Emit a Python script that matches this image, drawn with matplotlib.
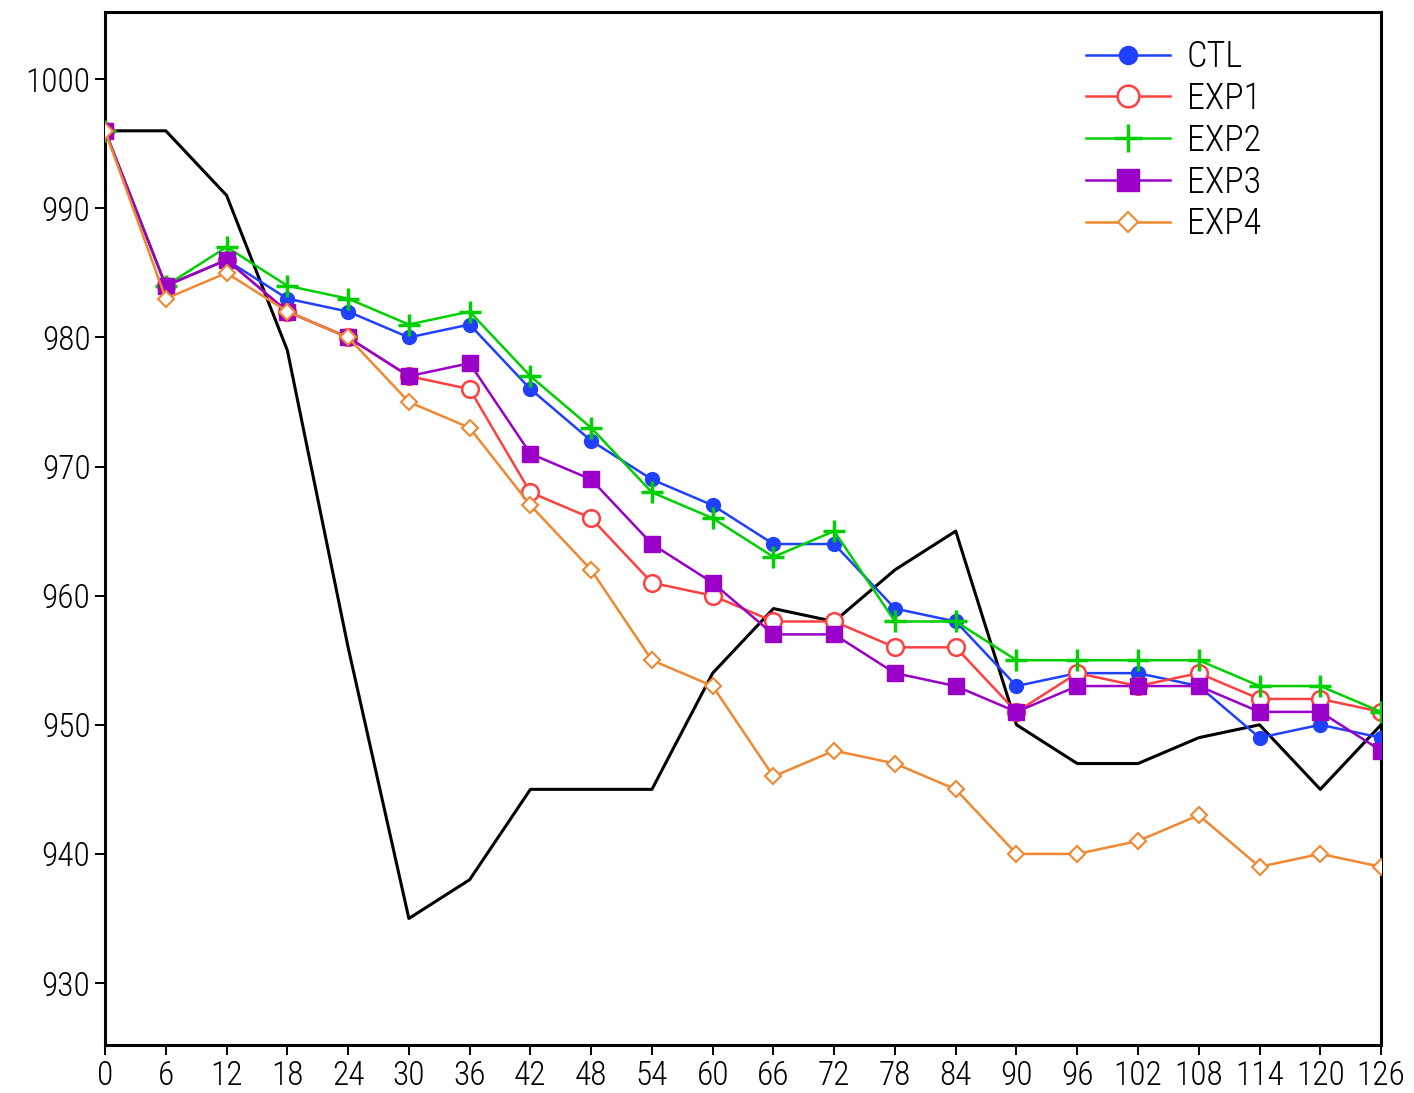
import matplotlib
matplotlib.use("Agg")
import matplotlib.pyplot as plt

# forecast hours
hours = list(range(0, 127, 6))

obs  = [996, 996, 991, 979, 956, 935, 938, 945, 945, 945, 954, 959, 958, 962, 965, 950, 947, 947, 949, 950, 945, 950]
ctl  = [996, 984, 986, 983, 982, 980, 981, 976, 972, 969, 967, 964, 964, 959, 958, 953, 954, 954, 953, 949, 950, 949]
exp1 = [996, 984, 986, 982, 980, 977, 976, 968, 966, 961, 960, 958, 958, 956, 956, 951, 954, 953, 954, 952, 952, 951]
exp2 = [996, 984, 987, 984, 983, 981, 982, 977, 973, 968, 966, 963, 965, 958, 958, 955, 955, 955, 955, 953, 953, 951]
exp3 = [996, 984, 986, 982, 980, 977, 978, 971, 969, 964, 961, 957, 957, 954, 953, 951, 953, 953, 953, 951, 951, 948]
exp4 = [996, 983, 985, 982, 980, 975, 973, 967, 962, 955, 953, 946, 948, 947, 945, 940, 940, 941, 943, 939, 940, 939]

plt.rcParams.update({
    "font.family": ["Liberation Sans Narrow", "Roboto Condensed", "DejaVu Sans"],
    "font.stretch": "condensed",
    "font.weight": "light",
    "font.size": 24,
})

fig = plt.figure(figsize=(14.14, 10.93), dpi=100)
ax = fig.add_axes([0.0743, 0.0439, 0.9024, 0.9451])

ax.plot(hours, obs, color="black", lw=2.2, zorder=2)
ax.plot(hours, ctl, color="#2040ff", lw=1.8, marker="o", ms=10, mfc="#2040ff", mec="#2040ff", label="CTL", zorder=3)
ax.plot(hours, exp1, color="#ff4040", lw=1.8, marker="o", ms=12, mfc="white", mec="#ff4040", mew=1.8, label="EXP1", zorder=3)
ax.plot(hours, exp2, color="#00d000", lw=1.8, marker="+", ms=16, mew=2.5, label="EXP2", zorder=3)
ax.plot(hours, exp3, color="#9a00c8", lw=1.8, marker="s", ms=12, mfc="#9a00c8", mec="#9a00c8", label="EXP3", zorder=3)
ax.plot(hours, exp4, color="#f08830", lw=1.8, marker="D", ms=8, mfc="white", mec="#f08830", mew=1.5, label="EXP4", zorder=3)

ax.set_xlim(0, 126)
ax.set_ylim(925.2, 1005.2)
ax.set_xticks(hours)
ax.set_yticks([930, 940, 950, 960, 970, 980, 990, 1000])

for s in ax.spines.values():
    s.set_linewidth(2.2)
ax.tick_params(direction="out", length=7, width=1.4, labelsize=24, colors="black")

ax.legend(loc="upper left", bbox_to_anchor=(0.743, 1.005), frameon=False, markerscale=1.3,
          handlelength=2.35, labelspacing=0.16, handletextpad=0.45, fontsize=26)

fig.savefig("out.png", dpi=100)
